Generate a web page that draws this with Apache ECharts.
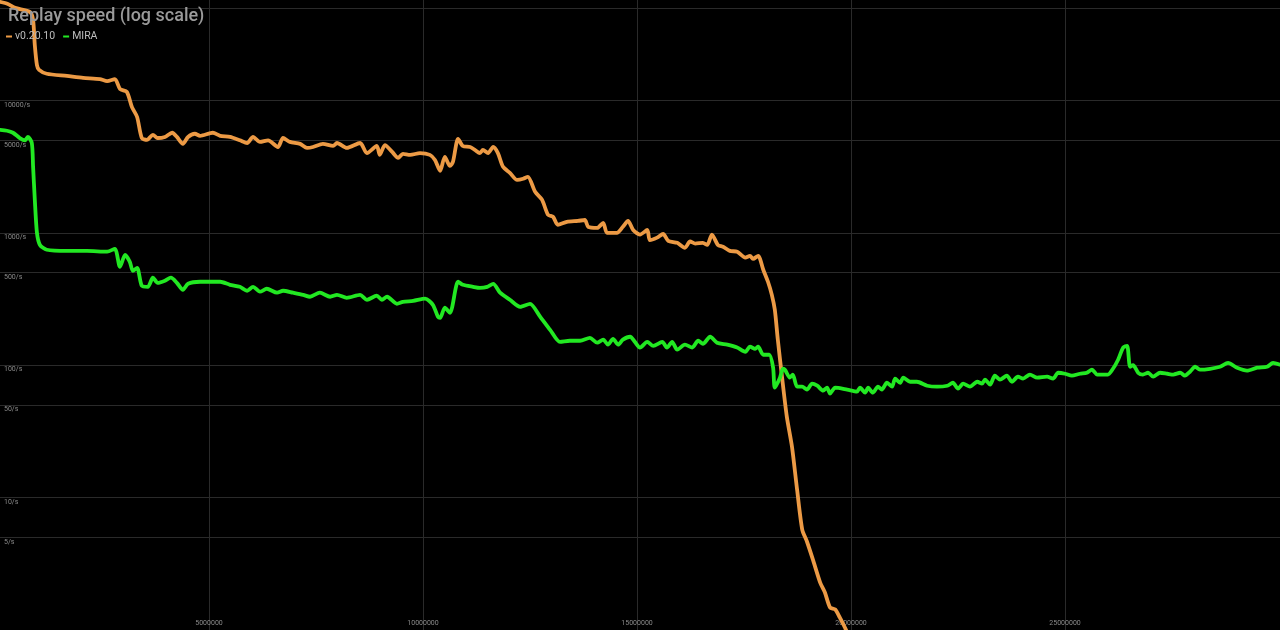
<!DOCTYPE html>
<html>
<head>
<meta charset="utf-8">
<script src="https://cdn.jsdelivr.net/npm/echarts@6/dist/echarts.min.js"></script>
<style>
html,body{margin:0;padding:0;background:#000;}
#chart{width:1280px;height:630px;}
</style>
</head>
<body>
<div id="chart"></div>
<script>
// ---- data (events processed, events per second) ----
const seriesNames = ['v0.20.10', 'MIRA'];

const orangeX = [117000,300000,470000,820000,890000,930000,980000,1030000,1210000,1680000,2060000,2450000,2620000,2800000,2920000,3080000,3200000,3320000,3430000,3550000,3690000,3800000,3970000,4140000,4250000,4390000,4510000,4670000,4790000,5090000,5260000,5490000,5720000,5890000,6030000,6190000,6380000,6610000,6730000,6890000,7130000,7290000,7430000,7660000,7900000,7990000,8220000,8530000,8690000,8920000,8990000,9110000,9280000,9420000,9530000,9700000,9930000,10160000,10280000,10400000,10510000,10630000,10700000,10820000,10930000,11100000,11210000,11330000,11400000,11520000,11640000,11750000,11870000,12030000,12200000,12340000,12450000,12620000,12780000,12920000,13040000,13150000,13360000,13620000,13780000,13860000,14070000,14210000,14300000,14530000,14670000,14790000,14910000,15070000,15240000,15300000,15470000,15610000,15730000,15940000,16120000,16240000,16360000,16540000,16640000,16750000,16890000,17010000,17170000,17340000,17530000,17640000,17710000,17830000,17950000,18060000,18150000,18220000,18290000,18390000,18500000,18620000,18740000,18860000,18970000,19110000,19280000,19390000,19510000,19630000,19740000,19860000,19980000];
const orangeY = [55500,53500,50000,46500,40500,26200,18500,17000,15900,15300,14800,14500,14000,14500,12200,11600,8900,7500,5200,5030,5500,5200,5300,5700,5300,4700,5300,5600,5400,5700,5400,5300,5000,4770,5300,4860,5000,4450,5200,4860,4700,4380,4450,4700,4530,4770,4380,4770,4000,4530,3880,4600,4080,3680,3950,3880,4000,3880,3550,2940,3750,3200,3440,5120,4530,4450,4230,4000,4230,4000,4450,4000,3150,2840,2510,2560,2650,2040,1780,1370,1320,1150,1210,1230,1250,1110,1090,1190,1000,1000,1110,1230,1050,970,1050,880,920,980,870,840,770,860,830,840,810,970,810,785,730,720,650,670,635,670,526,427,340,262,156,80.5,40.9,24.3,11.5,5.74,4.66,3.4,2.28,1.92,1.48,1.43,1.24,1.04,0.85];

const greenX = [117000,280000,420000,580000,700000,770000,860000,890000,930000,980000,1050000,1210000,1680000,2150000,2620000,2800000,2920000,3040000,3150000,3220000,3320000,3430000,3570000,3690000,3800000,3970000,4110000,4250000,4390000,4510000,4790000,5260000,5490000,5720000,5890000,6030000,6190000,6350000,6590000,6730000,6960000,7200000,7360000,7590000,7830000,7990000,8220000,8530000,8690000,8920000,9040000,9160000,9390000,9530000,9770000,10050000,10230000,10350000,10400000,10510000,10630000,10820000,10930000,11170000,11330000,11500000,11640000,11800000,12030000,12270000,12500000,12740000,12970000,13200000,13430000,13670000,13900000,14070000,14210000,14320000,14440000,14560000,14670000,14840000,14950000,15070000,15240000,15380000,15590000,15700000,15820000,15940000,16120000,16290000,16430000,16540000,16710000,16870000,17110000,17340000,17530000,17640000,17760000,17830000,17950000,18090000,18180000,18220000,18340000,18410000,18460000,18570000,18640000,18740000,18860000,18970000,19090000,19210000,19350000,19440000,19510000,19630000,19910000,20140000,20210000,20330000,20400000,20510000,20630000,20720000,20840000,20960000,21030000,21150000,21220000,21380000,21540000,21780000,22010000,22250000,22380000,22500000,22620000,22780000,22950000,23060000,23130000,23250000,23360000,23480000,23640000,23760000,23900000,24020000,24180000,24350000,24580000,24720000,24840000,25000000,25160000,25350000,25510000,25630000,25750000,26000000,26120000,26240000,26360000,26450000,26520000,26590000,26710000,26820000,26940000,27060000,27220000,27390000,27530000,27690000,27800000,27920000,28040000,28150000,28390000,28620000,28810000,29020000,29250000,29490000,29720000,29860000,30020000];
const greenY = [6000,5900,5700,5200,5000,5300,4770,3150,1780,1000,810,745,730,730,720,757,554,680,604,517,544,398,391,458,419,435,458,419,371,412,427,427,405,391,365,391,359,378,353,365,353,340,329,353,329,340,323,340,312,335,312,329,291,301,306,318,286,232,228,272,249,427,405,391,384,391,412,353,312,276,291,232,185,150,153,153,161,148,156,143,158,143,156,164,150,136,150,140,150,136,150,131,143,136,153,145,164,148,143,136,126,138,133,138,120,120,95.7,67.7,80.5,94,92,80.5,85,68.8,68.8,65.4,72.5,70,64.3,67.7,61,67.7,65.4,63.2,67.7,62,67.7,62,68.8,65.4,73.7,68.8,79.2,73.7,80.5,75,75,70,68.8,70,73.7,66.5,72.5,68.8,75,72.5,77.8,71.3,83.3,77.8,83.3,75,81.9,79.2,85,80.5,81.9,79.2,87.7,86.2,83.3,86.2,87.7,92.6,85,85,94,110,136,140,97.4,100,87.7,85,87.7,81.9,87.7,86.2,85,87.7,83.3,89.3,97.4,92.6,94,97.4,104,95.7,91,95.7,97.4,104,101];

const xTicks = [5000000, 10000000, 15000000, 20000000, 25000000];
const yGridValues = [1, 5, 10, 50, 100, 500, 1000, 5000, 10000, 50000];
const yLabelValues = [5, 10, 50, 100, 500, 1000, 5000, 10000];

const orangeData = orangeX.map((x, i) => [x, orangeY[i]]);
const greenData = greenX.map((x, i) => [x, greenY[i]]);

const chart = echarts.init(document.getElementById('chart'));
const gridColor = '#2a2a2a';
chart.setOption({
  backgroundColor: '#000',
  animation: false,
  title: {
    text: 'Replay speed (log scale)',
    left: 3, top: 2,
    textStyle: {color: '#9a9a9a', fontSize: 18, fontWeight: 500, fontFamily: 'Roboto'}
  },
  legend: {
    left: 1, top: 26,
    icon: 'rect', itemWidth: 6, itemHeight: 2, itemGap: 8,
    textStyle: {color: '#bdbdbd', fontSize: 10.5, fontFamily: 'Roboto', padding: [0, 0, 0, -2]},
    data: seriesNames
  },
  grid: {left: 0, right: 0, top: 0, bottom: 0, containLabel: false},
  xAxis: {
    type: 'value',
    min: 116800, max: 30023000,
    axisLine: {show: false},
    axisTick: {show: false, customValues: xTicks},
    splitLine: {show: true, lineStyle: {color: gridColor, width: 1}},
    axisLabel: {
      inside: true, margin: 3, customValues: xTicks,
      color: '#8a8a8a', fontSize: 7, fontFamily: 'Roboto', verticalAlign: 'bottom',
      formatter: v => String(v)
    }
  },
  yAxis: {
    type: 'log', logBase: 10,
    min: 1, max: 57350,
    axisLine: {show: false},
    axisTick: {show: false, customValues: yGridValues},
    splitLine: {show: true, lineStyle: {color: gridColor, width: 1}},
    axisLabel: {
      inside: true, margin: 4, customValues: yLabelValues,
      color: '#8a8a8a', fontSize: 7, fontFamily: 'Roboto',
      verticalAlign: 'top', padding: [1, 0, 0, 0],
      formatter: v => v + '/s'
    }
  },
  series: [
    {
      name: seriesNames[0], type: 'line', data: orangeData, showSymbol: false, symbol: 'none',
      smooth: 0.25,
      lineStyle: {color: '#ec9a45', width: 3.8, join: 'round', cap: 'round'},
      itemStyle: {color: '#ec9a45'}, clip: true
    },
    {
      name: seriesNames[1], type: 'line', data: greenData, showSymbol: false, symbol: 'none',
      smooth: 0.25,
      lineStyle: {color: '#22e822', width: 3.8, join: 'round', cap: 'round'},
      itemStyle: {color: '#22e822'}, clip: true
    }
  ]
});
</script>
</body>
</html>
